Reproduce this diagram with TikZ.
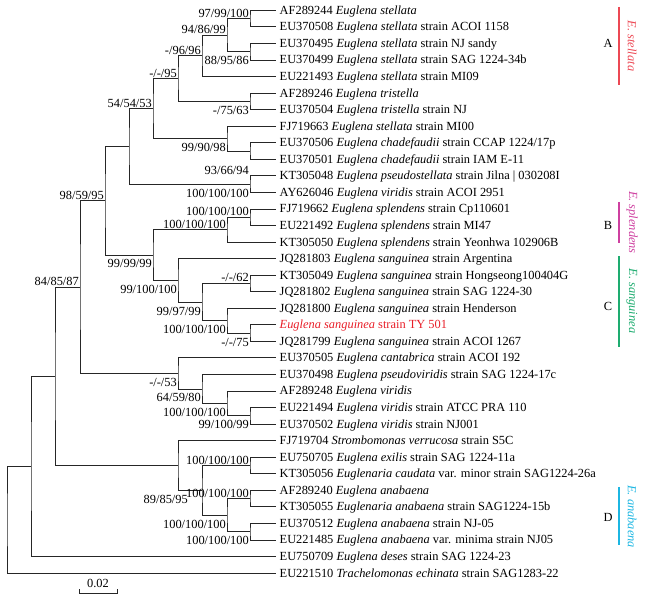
\documentclass[tikz,border=0pt]{standalone}
\usepackage{fontspec}
\setmainfont{Liberation Serif}
\usepackage{tikz}
\usetikzlibrary{calc}
\definecolor{cladeA}{RGB}{236,72,84}
\definecolor{cladeB}{RGB}{206,64,160}
\definecolor{cladeC}{RGB}{30,172,112}
\definecolor{cladeD}{RGB}{28,182,226}
\definecolor{strainred}{RGB}{232,30,40}
\newcommand{\sz}{\fontsize{12.4}{14}\selectfont}
\tikzset{
	leaf/.style={anchor=west, inner xsep=4pt, inner ysep=0pt, text height=9pt, text depth=1pt, font=\sz},
	bsa/.style={anchor=south east, inner sep=1pt, text height=8.4pt, text depth=0.2pt, font=\sz},
	bsb/.style={anchor=north east, inner sep=1pt, text height=8.4pt, text depth=0.2pt, yshift=-3.4pt, font=\sz},
	branch/.style={line width=0.75pt, black!85},
	cladebar/.style={line width=1.3pt},
	cladename/.style={rotate=-90, font=\sz\itshape},
}

\begin{document}
\begin{tikzpicture}[x=1pt, y=-16.55pt]
			\useasboundingbox (0,0.3776) rectangle (652,36.752);
			% taxa
			\node[leaf] (AF289244) at (275.5,1) {AF289244 \textit{Euglena stellata}};
			\node[leaf] (EU370508) at (275.5,2) {EU370508 \textit{Euglena stellata} strain ACOI 1158};
			\node[leaf] (EU370495) at (275.5,3) {EU370495 \textit{Euglena stellata} strain NJ sandy};
			\node[leaf] (EU370499) at (275.5,4) {EU370499 \textit{Euglena stellata} strain SAG 1224-34b};
			\node[leaf] (EU221493) at (275.5,5) {EU221493 \textit{Euglena stellata} strain MI09};
			\node[leaf] (AF289246) at (275.5,6) {AF289246 \textit{Euglena tristella}};
			\node[leaf] (EU370504) at (275.5,7) {EU370504 \textit{Euglena tristella} strain NJ};
			\node[leaf] (FJ719663) at (275.5,8) {FJ719663 \textit{Euglena stellata} strain MI00};
			\node[leaf] (EU370506) at (275.5,9) {EU370506 \textit{Euglena chadefaudii} strain CCAP 1224/17p};
			\node[leaf] (EU370501) at (275.5,10) {EU370501 \textit{Euglena chadefaudii} strain IAM E-11};
			\node[leaf] (KT305048) at (275.5,11) {KT305048 \textit{Euglena pseudostellata} strain Jilna | 030208I};
			\node[leaf] (AY626046) at (275.5,12) {AY626046 \textit{Euglena viridis} strain ACOI 2951};
			\node[leaf] (FJ719662) at (275.5,13) {FJ719662 \textit{Euglena splendens} strain Cp110601};
			\node[leaf] (EU221492) at (275.5,14) {EU221492 \textit{Euglena splendens} strain MI47};
			\node[leaf] (KT305050) at (275.5,15) {KT305050 \textit{Euglena splendens} strain Yeonhwa 102906B};
			\node[leaf] (JQ281803) at (275.5,16) {JQ281803 \textit{Euglena sanguinea} strain Argentina};
			\node[leaf] (KT305049) at (275.5,17) {KT305049 \textit{Euglena sanguinea} strain Hongseong100404G};
			\node[leaf] (JQ281802) at (275.5,18) {JQ281802 \textit{Euglena sanguinea} strain SAG 1224-30};
			\node[leaf] (JQ281800) at (275.5,19) {JQ281800 \textit{Euglena sanguinea} strain Henderson};
			\node[leaf, text=strainred] (TY501) at (275.5,20) {\textit{Euglena sanguinea} strain TY 501};
			\node[leaf] (JQ281799) at (275.5,21) {JQ281799 \textit{Euglena sanguinea} strain ACOI 1267};
			\node[leaf] (EU370505) at (275.5,22) {EU370505 \textit{Euglena cantabrica} strain ACOI 192};
			\node[leaf] (EU370498) at (275.5,23) {EU370498 \textit{Euglena pseudoviridis} strain SAG 1224-17c};
			\node[leaf] (AF289248) at (275.5,24) {AF289248 \textit{Euglena viridis}};
			\node[leaf] (EU221494) at (275.5,25) {EU221494 \textit{Euglena viridis} strain ATCC PRA 110};
			\node[leaf] (EU370502) at (275.5,26) {EU370502 \textit{Euglena viridis} strain NJ001};
			\node[leaf] (FJ719704) at (275.5,27) {FJ719704 \textit{Strombomonas verrucosa} strain S5C};
			\node[leaf] (EU750705) at (275.5,28) {EU750705 \textit{Euglena exilis} strain SAG 1224-11a};
			\node[leaf] (KT305056) at (275.5,29) {KT305056 \textit{Euglenaria caudata} var. minor strain SAG1224-26a};
			\node[leaf] (AF289240) at (275.5,30) {AF289240 \textit{Euglena anabaena}};
			\node[leaf] (KT305055) at (275.5,31) {KT305055 \textit{Euglenaria anabaena} strain SAG1224-15b};
			\node[leaf] (EU370512) at (275.5,32) {EU370512 \textit{Euglena anabaena} strain NJ-05};
			\node[leaf] (EU221485) at (275.5,33) {EU221485 \textit{Euglena anabaena} var. minima strain NJ05};
			\node[leaf] (EU750709) at (275.5,34) {EU750709 \textit{Euglena deses} strain SAG 1224-23};
			\node[leaf] (EU221510) at (275.5,35) {EU221510 \textit{Trachelomonas echinata} strain SAG1283-22};
			% internal nodes
			\coordinate (c12) at (250,1.5);
			\coordinate (c34) at (250,3.5);
			\coordinate (c1234) at (227,2.5);
			\coordinate (c1to5) at (202,3.75);
			\coordinate (c67) at (250,6.5);
			\coordinate (c1to7) at (178,5.125);
			\coordinate (c910) at (250,9.5);
			\coordinate (c8to10) at (227,8.75);
			\coordinate (c1to10) at (153,6.9375);
			\coordinate (c1112) at (250,11.5);
			\coordinate (c1to12) at (129,9.21875);
			\coordinate (c1314) at (250,13.5);
			\coordinate (c13to15) at (227,14.25);
			\coordinate (c1718) at (250,17.5);
			\coordinate (c2021) at (250,20.5);
			\coordinate (c19to21) at (227,19.75);
			\coordinate (c17to21) at (202,18.625);
			\coordinate (c16to21) at (178,17.3125);
			\coordinate (c13to21) at (153,15.78125);
			\coordinate (c1to21) at (105,12.5);
			\coordinate (c2526) at (250,25.5);
			\coordinate (c24to26) at (227,24.75);
			\coordinate (c23to26) at (202,23.875);
			\coordinate (c22to26) at (178,22.9375);
			\coordinate (c1to26) at (80,17.71875);
			\coordinate (c2829) at (250,28.5);
			\coordinate (c3031) at (250,30.5);
			\coordinate (c3233) at (250,32.5);
			\coordinate (c30to33) at (227,31.5);
			\coordinate (c28to33) at (202,30);
			\coordinate (c27to33) at (178,28.5);
			\coordinate (c1to33) at (55,23.109375);
			\coordinate (c1to34) at (31,28.5546875);
			\coordinate (root) at (7,31.77734375);
			% branches
			\draw[branch] (AF289244.west) -| (c12) |- (EU370508.west);
			\draw[branch] (EU370495.west) -| (c34) |- (EU370499.west);
			\draw[branch] (c12) -| (c1234) |- (c34);
			\draw[branch] (c1234) -| (c1to5) |- (EU221493.west);
			\draw[branch] (AF289246.west) -| (c67) |- (EU370504.west);
			\draw[branch] (c1to5) -| (c1to7) |- (c67);
			\draw[branch] (EU370506.west) -| (c910) |- (EU370501.west);
			\draw[branch] (FJ719663.west) -| (c8to10) |- (c910);
			\draw[branch] (c1to7) -| (c1to10) |- (c8to10);
			\draw[branch] (KT305048.west) -| (c1112) |- (AY626046.west);
			\draw[branch] (c1to10) -| (c1to12) |- (c1112);
			\draw[branch] (FJ719662.west) -| (c1314) |- (EU221492.west);
			\draw[branch] (c1314) -| (c13to15) |- (KT305050.west);
			\draw[branch] (KT305049.west) -| (c1718) |- (JQ281802.west);
			\draw[branch] (TY501.west) -| (c2021) |- (JQ281799.west);
			\draw[branch] (JQ281800.west) -| (c19to21) |- (c2021);
			\draw[branch] (c1718) -| (c17to21) |- (c19to21);
			\draw[branch] (JQ281803.west) -| (c16to21) |- (c17to21);
			\draw[branch] (c13to15) -| (c13to21) |- (c16to21);
			\draw[branch] (c1to12) -| (c1to21) |- (c13to21);
			\draw[branch] (EU221494.west) -| (c2526) |- (EU370502.west);
			\draw[branch] (AF289248.west) -| (c24to26) |- (c2526);
			\draw[branch] (EU370498.west) -| (c23to26) |- (c24to26);
			\draw[branch] (EU370505.west) -| (c22to26) |- (c23to26);
			\draw[branch] (c1to21) -| (c1to26) |- (c22to26);
			\draw[branch] (EU750705.west) -| (c2829) |- (KT305056.west);
			\draw[branch] (AF289240.west) -| (c3031) |- (KT305055.west);
			\draw[branch] (EU370512.west) -| (c3233) |- (EU221485.west);
			\draw[branch] (c3031) -| (c30to33) |- (c3233);
			\draw[branch] (c2829) -| (c28to33) |- (c30to33);
			\draw[branch] (FJ719704.west) -| (c27to33) |- (c28to33);
			\draw[branch] (c1to26) -| (c1to33) |- (c27to33);
			\draw[branch] (c1to33) -| (c1to34) |- (EU750709.west);
			\draw[branch] (c1to34) -| (root) |- (EU221510.west);
			% support values
			\node[bsa] (b12) at (c12) {97/99/100};
			\node[bsa] (b1234) at (c1234) {94/86/99};
			\node[bsb] (b34) at (c34) {88/95/86};
			\node[bsa] (b1to5) at (c1to5) {-/96/96};
			\node[bsa] (b1to7) at (c1to7) {-/-/95};
			\node[bsb] (b67) at (c67) {-/75/63};
			\node[bsb] (b8to10) at (c8to10) {99/90/98};
			\node[bsb, yshift=-10.5pt] (b910) at (c910) {93/66/94};
			\node[bsa] (b1to10) at (c1to10) {54/54/53};
			\node[bsb] (b1112) at (c1112) {100/100/100};
			\node[bsa] (b1to21) at (c1to21) {98/59/95};
			\node[bsa] (b1314) at (c1314) {100/100/100};
			\node[bsa] (b13to15) at (c13to15) {100/100/100};
			\node[bsb] (b13to21) at (c13to21) {99/99/99};
			\node[bsb] (b16to21) at (c16to21) {99/100/100};
			\node[bsa] (b1718) at (c1718) {-/-/62};
			\node[bsb] (b17to21) at (c17to21) {99/97/99};
			\node[bsb] (b19to21) at (c19to21) {100/100/100};
			\node[bsb] (b2021) at (c2021) {-/-/75};
			\node[bsb] (b22to26) at (c22to26) {-/-/53};
			\node[bsb] (b23to26) at (c23to26) {64/59/80};
			\node[bsb] (b24to26) at (c24to26) {100/100/100};
			\node[bsb] (b2526) at (c2526) {99/100/99};
			\node[bsa] (b1to26) at (c1to26) {84/85/87};
			\node[bsa] (b2829) at (c2829) {100/100/100};
			\node[bsa] (b3031) at (c3031) {100/100/100};
			\node[bsb] (b3233) at (c3233) {100/100/100};
			\node[bsb] (b30to33) at (c30to33) {100/100/100};
			\node[bsb, xshift=-13pt] (b28to33) at (c28to33) {89/85/95};
			% clades
			\draw[cladebar, cladeA] (619,0.8) -- (619,5.51);
			\draw[cladebar, cladeB] (619,12.58) -- (619,15.06);
			\draw[cladebar, cladeC] (619,15.85) -- (619,21.34);
			\draw[cladebar, cladeD] (619,29.8) -- (619,33.3);
			\node[font=\sz] (gA) at (608,2.97) {A};
			\node[font=\sz] (gB) at (608,13.97) {B};
			\node[font=\sz] (gC) at (608,18.87) {C};
			\node[font=\sz] (gD) at (608,31.62) {D};
			\node[cladename, text=cladeA] (spA) at (632,3.16) {E. stellata};
			\node[cladename, text=cladeB] (spB) at (632,13.82) {E. splendens};
			\node[cladename, text=cladeC] (spC) at (632,18.56) {E. sanguinea};
			\node[cladename, text=cladeD] (spD) at (632,31.6) {E. anabaena};
			% scale
			\coordinate (sb1) at (79,36.21);
			\coordinate (sb2) at (117,36.21);
			\draw[branch, line width=0.6pt] ([yshift=4pt]sb1) -- (sb1) -- (sb2) -- ([yshift=4pt]sb2);
			\node[font=\sz, anchor=south, inner sep=1pt] (sblabel) at ($(sb1)!0.5!(sb2)+(0,-0.24)$) {0.02};
		\end{tikzpicture}
\end{document}
